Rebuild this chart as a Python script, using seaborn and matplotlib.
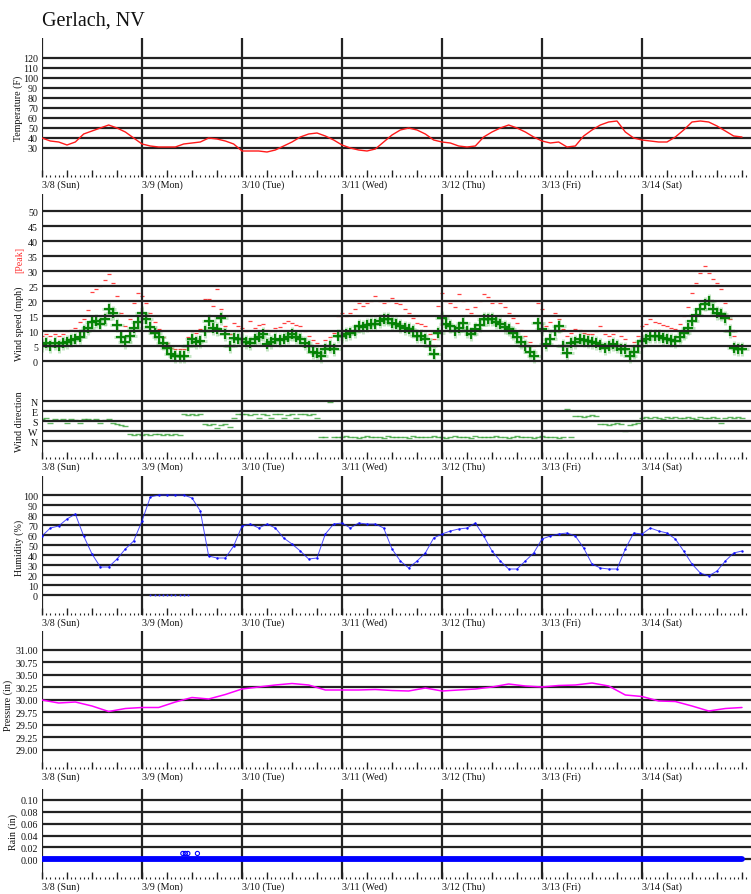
import numpy as np
import pandas as pd
import matplotlib
matplotlib.use("Agg")
import matplotlib.pyplot as plt
import seaborn as sns

# ---------------- data ----------------
station = "Gerlach, NV"
day_labels = ["3/8 (Sun)", "3/9 (Mon)", "3/10 (Tue)", "3/11 (Wed)",
              "3/12 (Thu)", "3/13 (Fri)", "3/14 (Sat)"]

# temperature (F), every 2 hours from 3/8 00:00
temp_hours = list(range(0, 169, 2))
temperature_f = [
    40, 37, 36, 33, 36, 44, 47, 50, 53, 50, 46, 40,
    34, 32, 31, 31, 31, 34, 35, 36, 40, 39, 37, 34,
    27, 27, 27, 26, 28, 32, 36, 41, 44, 45, 42, 38,
    33, 30, 28, 27, 29, 36, 43, 48, 50, 48, 44, 38,
    36, 35, 32, 31, 32, 41, 46, 50, 53, 50, 46, 41,
    37, 35, 36, 31, 32, 42, 48, 53, 56, 57, 46, 40,
    38, 37, 36, 36, 41, 48, 56, 57, 56, 52, 47, 42,
    41]

# wind (mph), hourly
wind_hours = list(range(0, 169))
wind_speed_mph = [
    5.5, 6, 5, 6, 5, 6, 6.5, 7, 7.5, 8, 10, 11, 13, 13.5, 12.5, 14, 17.5, 16, 12, 8, 6.5, 8.5, 11, 13,
    16, 14, 11.5, 9.5, 8, 6, 4.5, 2.5, 1.7, 1.7, 1.7, 5, 7.2, 6.5, 6.7, 10, 13.3, 11, 10.6, 14.4, 9, 5, 7.8, 7.5,
    7.2, 6.5, 6, 7.2, 8, 8.9, 5.6, 6.5, 7.2, 7, 7.2, 8, 8.9, 8, 7.2, 6, 5, 3, 2.8, 1.7, 4, 5, 3.9, 8.3,
    8.3, 9, 9.4, 10, 11.7, 11.5, 12, 12.2, 12.5, 13.3, 13.9, 13.9, 12.8, 12.5, 11.7, 11, 10.6, 10, 8.5, 8.3, 7.2, 5, 2.2, 9.4,
    14.4, 12.5, 11.7, 10, 11, 12.8, 10, 8.9, 10.6, 12, 13.9, 14, 13.9, 13, 12.2, 11.5, 10.6, 9.5, 8, 6.5, 5, 3, 1.7, 12.8,
    10.6, 5.6, 7.2, 10, 11.7, 5, 2.8, 6.1, 6.5, 7.2, 7, 6.7, 6.5, 6.1, 5.5, 4.4, 5, 5.6, 5, 4, 3.9, 1.7, 3, 5,
    6.7, 7.5, 8.3, 8.3, 8.3, 7.8, 7.2, 7, 6.7, 8, 9.4, 11, 13.3, 15.5, 17.2, 19, 20, 17.2, 16, 15.6, 14.4, 10, 4.5, 3.9,
    3.9]
wind_peak_mph = [
    8.3, 9, 8.3, 9, 8.5, 9, 10, 10.5, 11, 13, 14, 17, 23, 24, 25, 27, 29, 26, 21.7, 16, 11.7, 14, 19.4, 22.8,
    21.7, 19.4, 16, 13, 10.6, 8, 6, 4.5, 3.9, 3.9, 3.9, 8, 10, 9.5, 10.6, 20.6, 20.6, 18.3, 24, 17.2, 11.7, 9, 12.8, 11.7,
    11, 10, 13.3, 11, 12, 12.5, 10.5, 10, 11, 11.5, 12.8, 13.3, 12.8, 12, 11.7, 10, 8.3, 7, 6, 5, 7, 8, 9.4, 15,
    16, 15, 16, 17.5, 19.4, 18.5, 19.4, 20, 21.7, 20, 19.4, 20, 21, 19.5, 18.9, 17.5, 16, 14.5, 12.8, 12.5, 11.7, 9, 7.2, 18.3,
    22.8, 20, 19.4, 18, 22.2, 20, 17.2, 16, 18, 20, 22.2, 21.5, 19.4, 20, 19.4, 18, 16, 14.5, 12.8, 10.5, 8.3, 6.5, 5, 19.4,
    17.2, 11.7, 13, 16, 13.9, 10.6, 8.3, 9.5, 10.6, 10.5, 9.4, 9, 8.9, 10, 11.7, 9, 8.3, 9, 10, 8.5, 7.2, 5, 6.5, 8.3,
    11.7, 12.5, 13.9, 13, 12.8, 12, 11.7, 11, 10.6, 12.5, 15, 18, 22.8, 26, 29.4, 31.7, 29.4, 27.2, 26, 23.9, 19.4, 13.9, 8.3, 5,
    5]
wind_dir_deg = [
    165, 150, 200, 165, 175, 160, 195, 165, 170, 200, 165, 160, 175, 165, 200, 170, 165, 195, 210, 220, 225, 300, 305, 300,
    310, 300, 305, 300, 300, 310, 300, 305, 300, 310, 120, 125, 120, 130, 120, 210, 215, 205, 240, 215, 210, 230, 150, 120,
    115, 120, 125, 120, 150, 120, 125, 155, 120, 120, 150, 125, 120, 155, 120, 120, 125, 120, 150, 320, 320, 5, 320, 325,
    320, 315, 325, 320, 330, 320, 315, 320, 325, 320, 330, 315, 320, 325, 320, 320, 330, 315, 320, 325, 320, 320, 315, 325,
    320, 330, 320, 315, 325, 320, 320, 330, 315, 320, 325, 320, 320, 315, 325, 320, 330, 320, 315, 320, 325, 320, 330, 320,
    315, 320, 325, 320, 330, 320, 75, 320, 135, 135, 140, 135, 130, 135, 210, 205, 215, 210, 200, 210, 270, 215, 210, 200,
    150, 140, 155, 145, 150, 160, 140, 150, 145, 155, 150, 140, 150, 160, 145, 150, 150, 140, 155, 200, 150, 145, 150, 140,
    150]

# humidity (%), every 2 hours
humidity_hours = list(range(0, 169, 2))
humidity_pct = [
    59, 67, 69, 76, 81, 59, 41, 28, 28, 36, 46, 54,
    74, 98, 100, 100, 100, 100, 97, 84, 39, 37, 37, 49,
    69, 71, 67, 71, 67, 57, 51, 44, 36, 37, 61, 71,
    72, 67, 72, 71, 71, 67, 46, 34, 27, 34, 42, 57,
    61, 64, 66, 67, 72, 59, 44, 34, 26, 26, 34, 42,
    56, 59, 61, 62, 59, 47, 31, 27, 26, 26, 46, 62,
    61, 67, 64, 62, 56, 44, 31, 22, 19, 24, 34, 42,
    44]
humidity_glitch_hours = [26, 27, 28, 29, 30, 31, 32, 33, 34, 35]
humidity_glitch_pct = [0, 0, 0, 0, 0, 0, 0, 0, 0, 0]

# pressure (in), every 4 hours
pressure_hours = list(range(0, 169, 4))
pressure_in = [
    30.00, 29.94, 29.96, 29.88, 29.77, 29.83,
    29.85, 29.85, 29.96, 30.05, 30.02, 30.11,
    30.22, 30.26, 30.30, 30.33, 30.30, 30.20,
    30.20, 30.20, 30.21, 30.19, 30.18, 30.24,
    30.18, 30.20, 30.22, 30.26, 30.32, 30.28,
    30.26, 30.29, 30.30, 30.34, 30.28, 30.10,
    30.07, 29.98, 29.97, 29.88, 29.78, 29.83,
    29.85]

# rain (in)
rain_hours = list(range(0, 169))
rain_in = [0.0] * 169
rain_event_hours = [33.8, 34.4, 35.0, 37.3]
rain_event_in = [0.01, 0.01, 0.01, 0.01]

# ---------------- style ----------------
sns.set_theme(style="white")
plt.rcParams["font.family"] = ["Liberation Serif", "DejaVu Serif"]
plt.rcParams["axes.unicode_minus"] = False

W, H = 751, 895
fig = plt.figure(figsize=(W / 100, H / 100), dpi=100)
fig.patch.set_facecolor("white")

GRID = "#222222"
FS = 7.2


def days(hours):
    return np.asarray(hours, dtype=float) / 24.0


def make_ax(top, bottom, ylim, yticks, yticklabels, ticks_bottom=True, labels=True):
    ax = fig.add_axes([42 / W, 1 - bottom / H, (W - 42) / W, (bottom - top) / H])
    ax.set_facecolor("white")
    for s in ax.spines.values():
        s.set_visible(False)
    ax.set_xlim(0, 7.09)
    ax.set_ylim(*ylim)
    ax.set_yticks(yticks)
    ax.set_yticklabels(yticklabels)
    ax.tick_params(axis="y", length=0, pad=3, labelsize=FS, labelcolor="#111111")
    for v in yticks:
        ax.axhline(v, color=GRID, lw=1.6, zorder=3)
    for d in range(7):
        ax.axvline(d, color=GRID, lw=1.6, zorder=3)
    if ticks_bottom:
        ax.set_xticks(np.arange(0, 7.01, 0.25))
        ax.set_xticks(np.arange(0, 7.05, 1 / 24), minor=True)
        ax.tick_params(axis="x", which="major", direction="in", length=5, width=1,
                       color=GRID, labelbottom=False, bottom=True)
        ax.tick_params(axis="x", which="minor", direction="in", length=1.2, width=0.8,
                       color=GRID, bottom=True)
    else:
        ax.set_xticks([])
    if labels:
        for d, lab in enumerate(day_labels):
            ax.annotate(lab, xy=(d, 0), xycoords=("data", "axes fraction"),
                        xytext=(0, -7), textcoords="offset pixels",
                        ha="left", va="center", fontsize=FS, color="#111111")
    ax.set_xlabel("")
    ax.set_ylabel("")
    return ax


def ylab(text, x, y, color="#111111"):
    fig.text(x / W, 1 - y / H, text, rotation=90, ha="center", va="center",
             fontsize=FS, color=color)


fig.text(42 / W, 1 - 26 / H, station, fontsize=14.5, ha="left", va="baseline", color="#111111")

# Temperature
ax_t = make_ax(39, 178, (1, 140), list(range(30, 121, 10)), [str(v) for v in range(30, 121, 10)])
sns.lineplot(x=days(temp_hours), y=temperature_f, ax=ax_t, color="#ff1a1a", lw=1.0,
             estimator=None, sort=False, zorder=4)
ylab("Temperature (F)", 18.5, 108)

# Wind speed
ax_w = make_ax(195, 380, (-6, 55.67), list(range(0, 51, 5)), [str(v) for v in range(0, 51, 5)],
               ticks_bottom=False, labels=False)
sns.scatterplot(x=days(wind_hours), y=wind_peak_mph, ax=ax_w, marker="_", s=6,
                color="#ff2020", linewidth=0.9, alpha=0.85, zorder=2)
sns.scatterplot(x=days(wind_hours), y=wind_speed_mph, ax=ax_w, marker="+", s=95,
                color="#5cb85c", linewidth=2.2, alpha=0.35, zorder=2)
sns.scatterplot(x=days(wind_hours), y=wind_speed_mph, ax=ax_w, marker="+", s=55,
                color="#008000", linewidth=1.6, alpha=0.95, zorder=2)
ylab("Wind speed (mph)", 19, 324)
ylab("[Peak]", 19.5, 259.5, color="#ff3030")

# Wind direction
ax_d = make_ax(380, 460, (522, -198), [0, 90, 180, 270, 360], ["N", "E", "S", "W", "N"])
sns.scatterplot(x=days(wind_hours), y=wind_dir_deg, ax=ax_d, marker="_", s=14,
                color="#2e9e2e", linewidth=1.0, alpha=0.75, zorder=2)
ylab("Wind direction", 19, 422)

# Humidity
ax_h = make_ax(477, 616, (-20, 119), list(range(0, 101, 10)), [str(v) for v in range(0, 101, 10)])
sns.lineplot(x=days(humidity_hours), y=humidity_pct, ax=ax_h, color="#2020ff", lw=0.7,
             estimator=None, sort=False, zorder=4, alpha=0.8)
sns.scatterplot(x=days(humidity_hours), y=humidity_pct, ax=ax_h, color="#1010ff", s=3,
                linewidth=0, zorder=4)
sns.scatterplot(x=days(humidity_glitch_hours), y=humidity_glitch_pct, ax=ax_h, color="#3030ff",
                s=2, linewidth=0, zorder=4)
ylab("Humidity (%)", 19, 548)

# Pressure
p_ticks = [29.00, 29.25, 29.50, 29.75, 30.00, 30.25, 30.50, 30.75, 31.00]
ax_p = make_ax(632, 770, (28.62, 31.38), p_ticks, ["%.2f" % v for v in p_ticks])
sns.lineplot(x=days(pressure_hours), y=pressure_in, ax=ax_p, color="#ff00ff", lw=1.1,
             estimator=None, sort=False, zorder=4)
ylab("Pressure (in)", 8.5, 705)

# Rain
r_ticks = [0.00, 0.02, 0.04, 0.06, 0.08, 0.10]
ax_r = make_ax(790, 880, (-0.0328, 0.118), r_ticks, ["%.2f" % v for v in r_ticks])
sns.lineplot(x=days(rain_hours), y=rain_in, ax=ax_r, color="#0000ff", lw=4.2,
             estimator=None, sort=False, zorder=4)
ax_r.scatter(days(rain_event_hours), rain_event_in, marker="o", s=9,
             facecolors="none", edgecolors="#0000ff", linewidths=0.8, zorder=4)
ylab("Rain (in)", 13.5, 832)

for a in [ax_t, ax_w, ax_d, ax_h, ax_p, ax_r]:
    leg = a.get_legend()
    if leg is not None:
        leg.remove()

fig.savefig("out.png", dpi=100, facecolor="white")
